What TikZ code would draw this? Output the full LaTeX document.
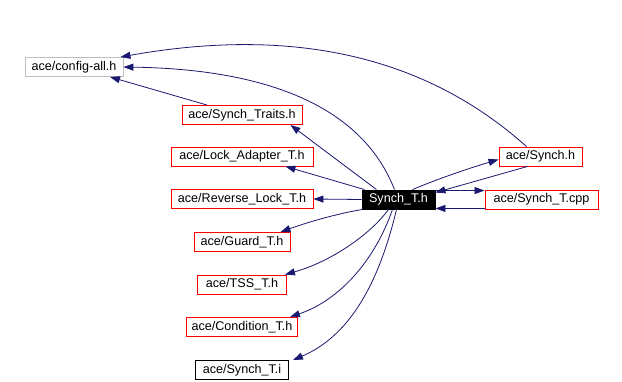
\documentclass[tikz,border=0pt]{standalone}
\usepackage{fontspec}
\setmainfont{Liberation Sans}
\usetikzlibrary{arrows.meta}
\definecolor{edgeblue}{RGB}{25,25,112}
\definecolor{boxgray}{RGB}{191,191,191}
\begin{document}
\begin{tikzpicture}[x=1pt,y=-1pt,
  box/.style={draw,line width=0.9pt,inner sep=0pt,minimum height=19pt,font=\fontsize{12.6}{14}\selectfont},
  redbox/.style={box,draw=red},
  graybox/.style={box,draw=boxgray},
  blackbox/.style={box,draw=black},
  mainbox/.style={box,draw=black,fill=black,text=white},
  edge/.style={draw=edgeblue,line width=0.8pt,-{Triangle[length=10pt,width=7pt,fill=edgeblue]}}]
\useasboundingbox (0,0) rectangle (622,382);
\fill[white] (0,0) rectangle (622,382);
\node[graybox,minimum width=98pt] (config) at (74,67) {ace/config-all.h};
\node[redbox,minimum width=120pt] (traits) at (242,115) {ace/Synch\_Traits.h};
\node[redbox,minimum width=142pt] (lock) at (242,156.5) {ace/Lock\_Adapter\_T.h};
\node[redbox,minimum width=142pt] (rev) at (242,199) {ace/Reverse\_Lock\_T.h};
\node[mainbox,minimum width=73pt] (main) at (398.5,199.5) {Synch\_T.h};
\node[redbox,minimum width=96pt] (guard) at (242,242) {ace/Guard\_T.h};
\node[redbox,minimum width=89pt] (tss) at (242,284.5) {ace/TSS\_T.h};
\node[redbox,minimum width=111pt] (cond) at (242,327) {ace/Condition\_T.h};
\node[blackbox,minimum width=93pt] (inl) at (242,370) {ace/Synch\_T.i};
\node[redbox,minimum width=83pt] (synch) at (540.5,156.5) {ace/Synch.h};
\node[redbox,minimum width=113pt] (cpp) at (541.5,199.5) {ace/Synch\_T.cpp};
% edges
\draw[edge] ([xshift=-4pt]main.north) .. controls (375,140) and (320,70) .. ([yshift=0pt]config.east);
\draw[edge] ([xshift=-14pt]synch.north) .. controls (430,60) and (300,25) .. ([xshift=-3pt]config.north east);
\draw[edge] ([xshift=-35pt]traits.north) -- ([xshift=36pt]config.south);
\draw[edge] ([xshift=-22pt]main.north) -- ([xshift=-12pt]traits.south east);
\draw[edge] ([xshift=-34pt]main.north) -- ([xshift=-28pt]lock.south east);
\draw[edge] (main.west) -- (rev.east);
\draw[edge] ([xshift=-36pt]main.south) .. controls (330,215) and (300,225) .. ([xshift=-10pt]guard.north east);
\draw[edge] ([xshift=-10pt]main.south) .. controls (370,235) and (330,262) .. ([xshift=-2pt]tss.north east);
\draw[edge] ([xshift=-6pt]main.south) .. controls (375,260) and (340,300) .. ([xshift=-8pt]cond.north east);
\draw[edge] ([xshift=-2pt]main.south) .. controls (375,300) and (340,340) .. ([xshift=4pt]inl.north east);
\draw[edge] ([xshift=14pt]main.north) .. controls (440,178) and (470,168) .. ([yshift=-3pt]synch.west);
\draw[edge] ([xshift=-13pt]synch.south) -- ([yshift=-3pt]main.north east);
\draw[edge] ([yshift=-1pt]main.north east) -- ([yshift=-1pt]cpp.north west);
\draw[edge] ([yshift=1pt]cpp.south west) -- ([yshift=1pt]main.south east);
\end{tikzpicture}
\end{document}
